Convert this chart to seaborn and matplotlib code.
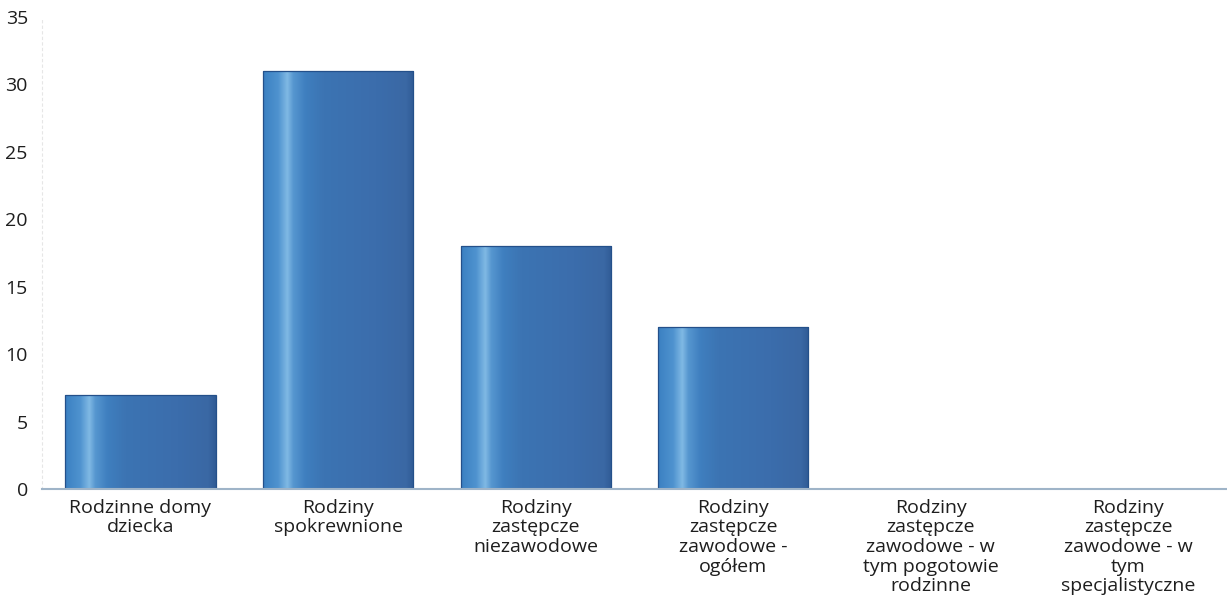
import numpy as np
import pandas as pd
import seaborn as sns
from matplotlib import pyplot as plt
from matplotlib.colors import LinearSegmentedColormap

categories = [
    "Rodzinne domy\ndziecka",
    "Rodziny\nspokrewnione",
    "Rodziny\nzastępcze\nniezawodowe",
    "Rodziny\nzastępcze\nzawodowe -\nogółem",
    "Rodziny\nzastępcze\nzawodowe - w\ntym pogotowie\nrodzinne",
    "Rodziny\nzastępcze\nzawodowe - w\ntym\nspecjalistyczne",
]
values = [7, 31, 18, 12, 0, 0]
y_ticks = [0, 5, 10, 15, 20, 25, 30, 35]

bar_cmap = LinearSegmentedColormap.from_list(
    "bar_grad",
    [(0.0, "#3b80c2"), (0.1, "#4f93cf"), (0.16, "#80b9e4"), (0.2, "#5697d0"),
     (0.28, "#3f7fbf"), (0.4, "#3c74b3"), (0.75, "#3b6dac"), (0.95, "#3a68a4"), (1.0, "#305b95")],
)


def plot_bars(data, file_name):
    fig = plt.figure(figsize=(12.27, 6.09), dpi=100)
    ax = fig.add_axes([0.034, 0.197, 0.966, 0.775])
    sns.barplot(x="category", y="value", data=data, color="#3b74b3", width=0.76, ax=ax)

    grad = np.linspace(0, 1, 256).reshape(1, -1)
    for patch in ax.patches:
        h = patch.get_height()
        if h <= 0:
            continue
        x0, w = patch.get_x(), patch.get_width()
        im = ax.imshow(grad, cmap=bar_cmap, aspect="auto", extent=[x0, x0 + w, 0, h], zorder=2)
        im.set_clip_path(patch)
        patch.set_edgecolor("#24508a")
        patch.set_linewidth(0.9)
        patch.set_zorder(2.5)
        patch.set_facecolor("none")

    ax.set_xlim(-0.5, len(categories) - 0.5)
    ax.set_ylim(0, 35)
    ax.set_yticks(y_ticks)
    ax.set_xlabel("")
    ax.set_ylabel("")
    ax.tick_params(axis="both", length=0, labelsize=14, colors="#1e1e1e")
    ax.tick_params(axis="x", pad=7)
    ax.tick_params(axis="y", pad=10)
    for lbl in ax.get_xticklabels():
        lbl.set_linespacing(1.12)

    for side in ["top", "right"]:
        ax.spines[side].set_visible(False)
    ax.spines["left"].set_color("#e6e6e6")
    ax.spines["left"].set_linestyle((0, (2, 3)))
    ax.spines["left"].set_linewidth(0.8)
    ax.spines["bottom"].set_color("#9fb4c8")
    ax.spines["bottom"].set_linewidth(1.5)
    ax.spines["bottom"].set_zorder(3)

    plt.savefig(file_name, dpi=100)


def main():
    sns.set_style("white")
    plt.rcParams["font.family"] = ["Open Sans", "DejaVu Sans"]
    data = pd.DataFrame({"category": categories, "value": values})
    plot_bars(data, "out.png")


if __name__ == "__main__":
    main()
